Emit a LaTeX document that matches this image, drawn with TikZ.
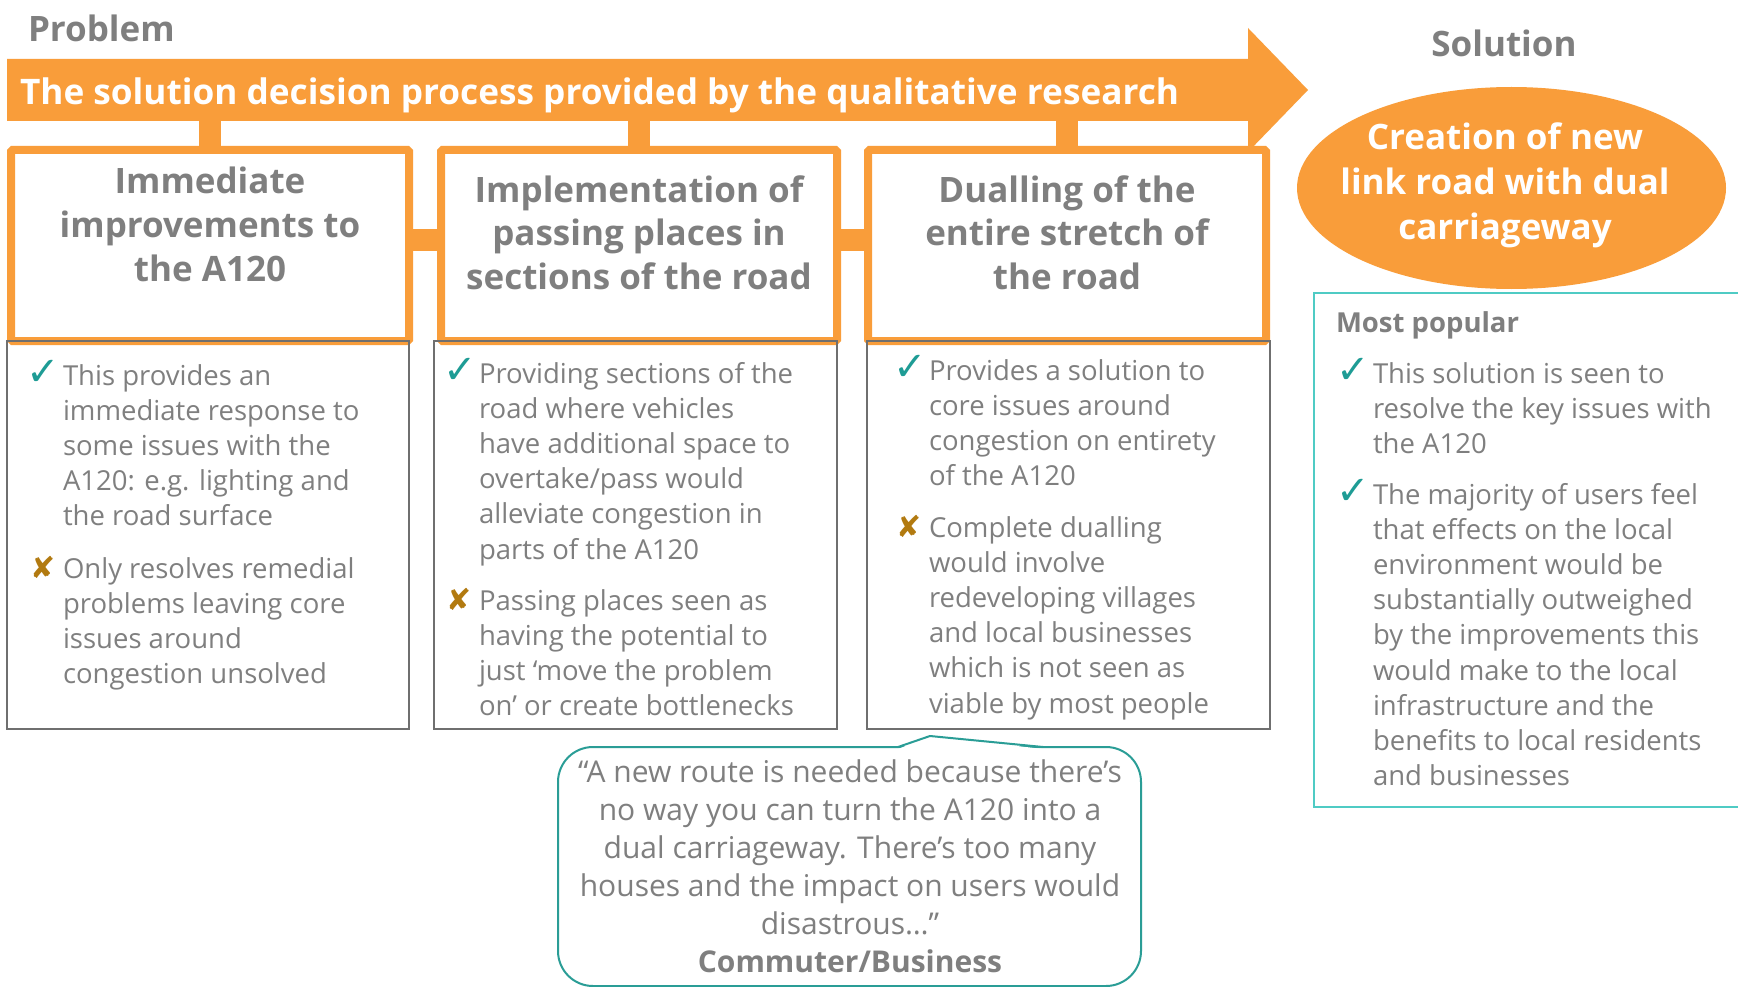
\documentclass[tikz,border=0pt]{standalone}
\usepackage{fontspec}
\setmainfont{Open Sans}
\newfontfamily\symfont{DejaVu Sans}
\usetikzlibrary{shapes.geometric,calc}
\definecolor{orng}{HTML}{F99D3A}
\definecolor{txtgray}{HTML}{7F7F7F}
\definecolor{boxgray}{HTML}{6F6F6F}
\definecolor{chkteal}{HTML}{1E9C95}
\definecolor{qteal}{HTML}{2A9D96}
\definecolor{pteal}{HTML}{4FCBC4}
\definecolor{xbrown}{HTML}{B27A10}
\begin{document}
\begin{tikzpicture}[x=1pt,y=-1pt,
  every node/.style={inner sep=0pt, outer sep=0pt},
  hdbox/.style={draw=orng, line width=8pt, fill=white, rounded corners=1.5pt},
  lowbox/.style={draw=boxgray, line width=1.3pt},
  hdtext/.style={font=\bfseries\fontsize{35}{44}\selectfont, text=txtgray, align=center, anchor=north},
  soltext/.style={font=\bfseries\fontsize{35}{45}\selectfont, text=white, align=center, anchor=north},
  bodytext/.style={font=\fontsize{27.5}{35.2}\selectfont, text=txtgray, align=left, anchor=north west},
  quotetext/.style={font=\fontsize{30}{38}\selectfont, text=txtgray, align=center, anchor=north},
  chk/.style={font=\symfont\fontsize{40}{40}\selectfont, text=chkteal, anchor=base west},
  crs/.style={font=\symfont\fontsize{30}{30}\selectfont, text=xbrown, anchor=base west},
  title/.style={font=\bfseries\fontsize{35}{40}\selectfont, text=txtgray}]
\useasboundingbox (0,0) rectangle (1738,987);
\fill[white] (0,0) rectangle (1738,987);

% big arrow
\fill[orng] (7,59) -- (1248,59) -- (1248,28) -- (1308,90) -- (1248,152) -- (1248,121) -- (7,121) -- cycle;
\node[font=\bfseries\fontsize{35.2}{40}\selectfont, text=white, anchor=base west] (arrtxt) at (20,105) {The solution decision process provided by the qualitative research};

% titles
\node[title, anchor=base west] (prob) at (28,42) {Problem};
\node[title, anchor=base] (soltitle) at (1504,57) {Solution};

% heading boxes
\node[hdbox, minimum width=398pt, minimum height=191pt] (b1) at (210,245.5) {};
\node[hdbox, minimum width=396pt, minimum height=191pt] (b2) at (639,245.5) {};
\node[hdbox, minimum width=398pt, minimum height=191pt] (b3) at (1067,245.5) {};

% vertical connectors from arrow
\foreach \b in {b1,b2,b3}{
  \fill[orng] ($(\b.north)+(-11,0)$) rectangle ($(\b.north)+(11,-29)$);
}
% horizontal connectors between boxes
\fill[orng] ($(b1.east)+(0,-16.5)$) rectangle ($(b2.west)+(0,5.5)$);
\fill[orng] ($(b2.east)+(0,-16.5)$) rectangle ($(b3.west)+(0,5.5)$);

% lower boxes
\node[lowbox, minimum width=402pt, minimum height=388pt] (l1) at (208,535) {};
\node[lowbox, minimum width=403pt, minimum height=388pt] (l2) at (635.5,535) {};
\node[lowbox, minimum width=403pt, minimum height=388pt] (l3) at (1068.5,535) {};

% heading texts
\node[hdtext] (h1) at (210,162.2) {\strut Immediate\\improvements to\\the A120};
\node[hdtext] (h2) at (639,171.2) {\strut Implementation of\\passing places in\\sections of the road};
\node[hdtext] (h3) at (1067,171.2) {\strut Dualling of the\\entire stretch of\\the road};

% box 1 items
\node[chk] (c11) at (26,385) {✓};
\node[bodytext] (t11) at (63,360.4) {\strut This provides an\\immediate response to\\some issues with the\\A120: e.g. lighting and\\the road surface};
\node[crs] (c12) at (30,578) {✘};
\node[bodytext] (t12) at (63,553.4) {\strut Only resolves remedial\\problems leaving core\\issues around\\congestion unsolved};

% box 2 items
\node[chk] (c21) at (443,383) {✓};
\node[bodytext] (t21) at (479,358.4) {\strut Providing sections of the\\road where vehicles\\have additional space to\\overtake/pass would\\alleviate congestion in\\parts of the A120};
\node[crs] (c22) at (446,610) {✘};
\node[bodytext] (t22) at (479,585.4) {\strut Passing places seen as\\having the potential to\\just ‘move the problem\\on’ or create bottlenecks};

% box 3 items
\node[chk] (c31) at (893,380) {✓};
\node[bodytext] (t31) at (929,355.4) {\strut Provides a solution to\\core issues around\\congestion on entirety\\of the A120};
\node[crs] (c32) at (896,537) {✘};
\node[bodytext] (t32) at (929,512.4) {\strut Complete dualling\\would involve\\redeveloping villages\\and local businesses\\which is not seen as\\viable by most people};

% solution ellipse
\node[ellipse, fill=orng, minimum width=429pt, minimum height=202pt] (sol) at (1511.5,188) {};
\node[soltext] (soltxt) at (1505,118.5) {\strut Creation of new\\link road with dual\\carriageway};

% right panel
\node[draw=pteal, line width=2pt, minimum width=446pt, minimum height=514pt] (pan) at (1537,550) {};
\node[font=\bfseries\fontsize{27.5}{32}\selectfont, text=txtgray, anchor=base west] (mp) at (1336,332) {Most popular};
\node[chk] (c41) at (1336,383) {✓};
\node[bodytext] (t41) at (1373,358.4) {\strut This solution is seen to\\resolve the key issues with\\the A120};
\node[chk] (c42) at (1336,504) {✓};
\node[bodytext] (t42) at (1373,479.4) {\strut The majority of users feel\\that effects on the local\\environment would be\\substantially outweighed\\by the improvements this\\would make to the local\\infrastructure and the\\benefits to local residents\\and businesses};

% quote callout
\node[draw=qteal, line width=2pt, fill=white, rounded corners=35pt, minimum width=583pt, minimum height=239pt] (q) at (849.5,866.5) {};
\coordinate (qtip) at (930,736);
\fill[white] ($(q.north west)+(340,2)$) -- (qtip) -- ($(q.north west)+(485,2)$) -- cycle;
\draw[qteal, line width=2pt, line join=round] ($(q.north west)+(340,0)$) -- (qtip) -- ($(q.north west)+(485,0)$);
\node[quotetext] (qt) at (850,755.4) {\strut “A new route is needed because there’s\\no way you can turn the A120 into a\\dual carriageway. There’s too many\\houses and the impact on users would\\disastrous…”\\\textbf{Commuter/Business}};
\end{tikzpicture}
\end{document}
